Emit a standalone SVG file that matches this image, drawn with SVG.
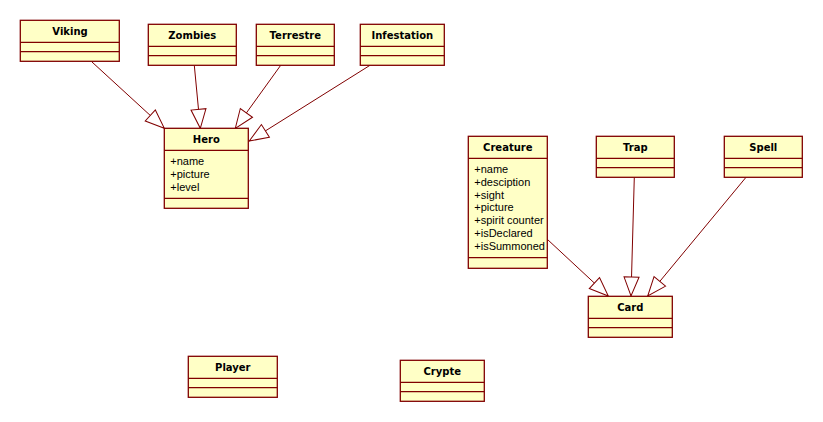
<svg xmlns="http://www.w3.org/2000/svg" width="823" height="422" viewBox="0 0 823 422">
<defs>
<style>
.box{fill:#FFFFC6;stroke:#800000;stroke-width:1.3}
.div{stroke:#800000;stroke-width:1.3;fill:none}
.t{font-family:"DejaVu Sans",sans-serif;font-weight:bold;font-size:10px;fill:#000;text-anchor:middle}
.a{font-family:"Liberation Sans",Arial,sans-serif;font-size:11px;fill:#000}
.c{stroke:#800000;stroke-width:1;fill:none;marker-end:url(#gen)}
</style>
<marker id="gen" markerWidth="22" markerHeight="18" refX="19" refY="8" orient="auto" markerUnits="userSpaceOnUse" overflow="visible">
<path d="M0,0.5 L19,8 L0,15.5 Z" fill="#fff" stroke="#800000" stroke-width="1"/>
</marker>
</defs>
<g id="connectors">
<path class="c" d="M92,62 L164.3,128.3"/>
<path class="c" d="M194.3,65.3 L200.3,128.3"/>
<path class="c" d="M280.7,65.3 L235.3,128.3"/>
<path class="c" d="M370,65.3 L249.3,141"/>
<path class="c" d="M547.3,239.3 L608.3,296"/>
<path class="c" d="M634.3,177.3 L631,296"/>
<path class="c" d="M746,177.3 L647.7,296"/>
</g>
<g id="Viking">
<rect class="box" x="20.3" y="20.3" width="99" height="41"/>
<path class="div" d="M20.3,42.3H119.3M20.3,51.7H119.3"/>
<text class="t" x="70" y="34.8">Viking</text>
</g>
<g id="Zombies">
<rect class="box" x="148.3" y="24.3" width="88" height="41"/>
<path class="div" d="M148.3,46.3H236.3M148.3,55.7H236.3"/>
<text class="t" x="192.3" y="38.8">Zombies</text>
</g>
<g id="Terrestre">
<rect class="box" x="256.3" y="24.3" width="78" height="41"/>
<path class="div" d="M256.3,46.3H334.3M256.3,55.7H334.3"/>
<text class="t" x="295.3" y="38.8">Terrestre</text>
</g>
<g id="Infestation">
<rect class="box" x="360.3" y="24.3" width="84" height="41"/>
<path class="div" d="M360.3,46.3H444.3M360.3,55.7H444.3"/>
<text class="t" x="402.3" y="38.8">Infestation</text>
</g>
<g id="Hero">
<rect class="box" x="164.3" y="128.3" width="84" height="80"/>
<path class="div" d="M164.3,150.3H248.3M164.3,198.3H248.3"/>
<text class="t" x="206.3" y="142.8">Hero</text>
<text class="a" x="170.3" y="164.8">+name</text>
<text class="a" x="170.3" y="177.8">+picture</text>
<text class="a" x="170.3" y="190.8">+level</text>
</g>
<g id="Creature">
<rect class="box" x="468.3" y="136.3" width="79" height="132"/>
<path class="div" d="M468.3,158.3H547.3M468.3,257.7H547.3"/>
<text class="t" x="507.8" y="150.8">Creature</text>
<text class="a" x="474.3" y="172.6">+name</text>
<text class="a" x="474.3" y="185.5">+desciption</text>
<text class="a" x="474.3" y="198.5">+sight</text>
<text class="a" x="474.3" y="211.4">+picture</text>
<text class="a" x="474.3" y="224.4">+spirit counter</text>
<text class="a" x="474.3" y="237.3">+isDeclared</text>
<text class="a" x="474.3" y="250.2">+isSummoned</text>
</g>
<g id="Trap">
<rect class="box" x="596.3" y="136.3" width="78" height="41"/>
<path class="div" d="M596.3,158.3H674.3M596.3,167.7H674.3"/>
<text class="t" x="635.3" y="150.8">Trap</text>
</g>
<g id="Spell">
<rect class="box" x="724.3" y="136.3" width="78" height="41"/>
<path class="div" d="M724.3,158.3H802.3M724.3,167.7H802.3"/>
<text class="t" x="763.3" y="150.8">Spell</text>
</g>
<g id="Card">
<rect class="box" x="588.3" y="296.3" width="84" height="41"/>
<path class="div" d="M588.3,318.3H672.3M588.3,327.7H672.3"/>
<text class="t" x="630.3" y="310.8">Card</text>
</g>
<g id="Player">
<rect class="box" x="188.3" y="356.3" width="89" height="41"/>
<path class="div" d="M188.3,378.3H277.3M188.3,387.7H277.3"/>
<text class="t" x="232.8" y="370.8">Player</text>
</g>
<g id="Crypte">
<rect class="box" x="400.3" y="360.3" width="84" height="41"/>
<path class="div" d="M400.3,382.3H484.3M400.3,391.7H484.3"/>
<text class="t" x="442.3" y="374.8">Crypte</text>
</g>
</svg>
